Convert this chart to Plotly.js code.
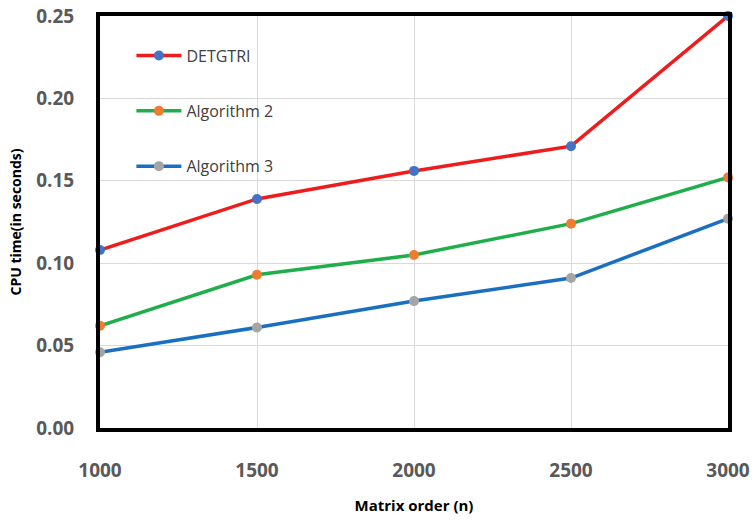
<!DOCTYPE html>
<html>
<head>
<meta charset="utf-8">
<script src="https://cdn.plot.ly/plotly-3.0.1.min.js"></script>
<style>html,body{margin:0;padding:0;background:#fff;}#chart{width:756px;height:521px;}</style>
</head>
<body>
<div id="chart"></div>
<script>
const matrixOrder = [1000, 1500, 2000, 2500, 3000];
const detgtri = [0.108, 0.139, 0.156, 0.171, 0.250];
const algorithm2 = [0.062, 0.093, 0.105, 0.124, 0.152];
const algorithm3 = [0.046, 0.061, 0.077, 0.091, 0.127];
const seriesNames = ["DETGTRI", "Algorithm 2", "Algorithm 3"];
const yTicks = [0, 0.05, 0.10, 0.15, 0.20, 0.25];
const yTickLabels = ["0.00", "0.05", "0.10", "0.15", "0.20", "0.25"];
const xTicks = [1000, 1500, 2000, 2500, 3000];

function tr(y, name, lineColor, markerColor, grp) {
  return {
    x: matrixOrder, y: y, name: name, type: 'scatter', mode: 'lines+markers',
    legendgroup: grp,
    line: {color: lineColor, width: 3.5},
    marker: {color: markerColor, size: 10},
    cliponaxis: false
  };
}
const data = [
  tr(detgtri, seriesNames[0], '#ee1c1c', '#4472c4', 'a'),
  tr(algorithm2, seriesNames[1], '#1fae4b', '#ed7d31', 'b'),
  tr(algorithm3, seriesNames[2], '#1a6fc0', '#a5a5a5', 'c')
];
const tickFont = {family: 'Open Sans, sans-serif', size: 19, color: '#595959', weight: 'bold'};
const layout = {
  width: 756, height: 521,
  margin: {l: 100, r: 28, t: 16, b: 93},
  paper_bgcolor: '#fff', plot_bgcolor: '#fff',
  showlegend: true,
  legend: {
    x: 0.05, y: 0.945, xanchor: 'left', yanchor: 'top',
    bgcolor: 'rgba(0,0,0,0)', tracegroupgap: 31.5, itemwidth: 45,
    font: {family: 'Open Sans, sans-serif', size: 16, color: '#404040'}
  },
  xaxis: {
    range: [1000, 3000], tickvals: xTicks, ticktext: xTicks.map(String),
    showgrid: true, gridcolor: '#d9d9d9', gridwidth: 1,
    showline: true, linecolor: '#000', linewidth: 4, mirror: true,
    zeroline: false, ticks: '', ticklabelstandoff: 22,
    tickfont: tickFont,
    title: {text: 'Matrix order (n)', standoff: 20,
      font: {family: 'Open Sans, sans-serif', size: 15, color: '#000', weight: 'bold'}}
  },
  yaxis: {
    range: [0, 0.25], tickvals: yTicks, ticktext: yTickLabels,
    showgrid: true, gridcolor: '#d9d9d9', gridwidth: 1,
    showline: true, linecolor: '#000', linewidth: 4, mirror: true,
    zeroline: false, ticks: '', ticklabelstandoff: 18,
    tickfont: tickFont,
    title: {text: 'CPU time(in seconds)', standoff: 12,
      font: {family: 'Open Sans, sans-serif', size: 14, color: '#000', weight: 'bold'}}
  }
};
Plotly.newPlot('chart', data, layout, {displayModeBar: false, staticPlot: true});
</script>
</body>
</html>
